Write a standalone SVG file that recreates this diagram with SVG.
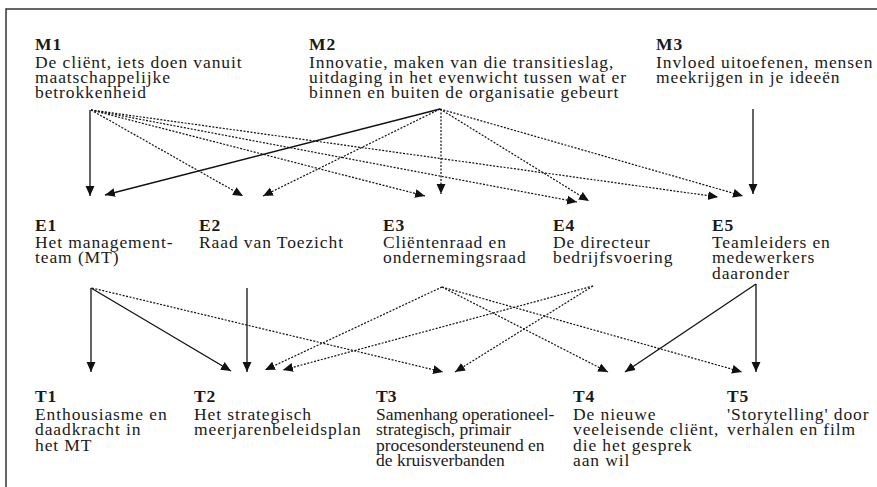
<svg xmlns="http://www.w3.org/2000/svg" width="877" height="487" viewBox="0 0 877 487">
<defs>
<style>
.t{font-family:"Liberation Serif","Times New Roman",serif;font-size:17.5px;letter-spacing:0.9px;fill:#1a1a1a}
.n{letter-spacing:0px}
.b{font-weight:bold}
.s{fill:none;stroke:#111;stroke-width:1.3}
.d{fill:none;stroke:#111;stroke-width:1.2;stroke-dasharray:2 1.5}
</style>
<marker id="ah" markerUnits="userSpaceOnUse" markerWidth="10" markerHeight="10" viewBox="0 0 9 8" refX="9" refY="4" orient="auto">
<path d="M0,0 L9,4 L0,8 z" fill="#111" stroke="none"/>
</marker>
</defs>
<rect x="6" y="9" width="890" height="500" fill="#fff" stroke="#333" stroke-width="1.5"/>

<g id="M1"><text class="t"><tspan class="b" x="35" y="50">M1</tspan><tspan x="35" y="67.5">De cliënt, iets doen vanuit</tspan><tspan x="35" y="82.8">maatschappelijke</tspan><tspan x="35" y="98">betrokkenheid</tspan></text></g>
<g id="M2"><text class="t"><tspan class="b" x="309" y="50">M2</tspan><tspan x="309" y="67.5">Innovatie, maken van die transitieslag,</tspan><tspan x="309" y="82.8">uitdaging in het evenwicht tussen wat er</tspan><tspan x="309" y="98">binnen en buiten de organisatie gebeurt</tspan></text></g>
<g id="M3"><text class="t"><tspan class="b" x="656" y="50">M3</tspan><tspan x="656" y="67.5">Invloed uitoefenen, mensen</tspan><tspan x="656" y="82.8">meekrijgen in je ideeën</tspan></text></g>

<g id="E1"><text class="t"><tspan class="b" x="35" y="231">E1</tspan><tspan x="35" y="248">Het management-</tspan><tspan x="35" y="263.3">team (MT)</tspan></text></g>
<g id="E2"><text class="t"><tspan class="b" x="199" y="231">E2</tspan><tspan x="199" y="248">Raad van Toezicht</tspan></text></g>
<g id="E3"><text class="t"><tspan class="b" x="383" y="231">E3</tspan><tspan x="383" y="248">Cliëntenraad en</tspan><tspan x="383" y="263.3">ondernemingsraad</tspan></text></g>
<g id="E4"><text class="t"><tspan class="b" x="553" y="231">E4</tspan><tspan x="553" y="248">De directeur</tspan><tspan x="553" y="263.3">bedrijfsvoering</tspan></text></g>
<g id="E5"><text class="t"><tspan class="b" x="712" y="231">E5</tspan><tspan x="712" y="248">Teamleiders en</tspan><tspan x="712" y="263.3">medewerkers</tspan><tspan x="712" y="278.5">daaronder</tspan></text></g>

<g id="T1"><text class="t"><tspan class="b" x="35" y="402">T1</tspan><tspan x="35" y="419.5">Enthousiasme en</tspan><tspan x="35" y="435">daadkracht in</tspan><tspan x="35" y="450.5">het MT</tspan></text></g>
<g id="T2"><text class="t"><tspan class="b" x="194" y="402">T2</tspan><tspan x="194" y="419.5">Het strategisch</tspan><tspan x="194" y="435">meerjarenbeleidsplan</tspan></text></g>
<g id="T3"><text class="t n"><tspan class="b" x="376" y="402">T3</tspan><tspan x="376" y="419.5">Samenhang operationeel-</tspan><tspan x="376" y="435">strategisch, primair</tspan><tspan x="376" y="450.5">procesondersteunend en</tspan><tspan x="376" y="466">de kruisverbanden</tspan></text></g>
<g id="T4"><text class="t"><tspan class="b" x="573" y="402">T4</tspan><tspan x="573" y="419.5">De nieuwe</tspan><tspan x="573" y="435">veeleisende cliënt,</tspan><tspan x="573" y="450.5">die het gesprek</tspan><tspan x="573" y="466">aan wil</tspan></text></g>
<g id="T5"><text class="t"><tspan class="b" x="727" y="402">T5</tspan><tspan x="727" y="419.5">'Storytelling' door</tspan><tspan x="727" y="435">verhalen en film</tspan></text></g>

<g id="connectors">
<line class="s" x1="90" y1="110" x2="90" y2="196" marker-end="url(#ah)"/>
<line class="d" x1="91" y1="110" x2="243" y2="196" marker-end="url(#ah)"/>
<line class="d" x1="91" y1="110" x2="425" y2="196" marker-end="url(#ah)"/>
<line class="d" x1="91" y1="110" x2="577" y2="202" marker-end="url(#ah)"/>
<line class="d" x1="91" y1="110" x2="718" y2="197" marker-end="url(#ah)"/>
<line class="s" x1="440" y1="109" x2="105" y2="195" marker-end="url(#ah)"/>
<line class="d" x1="440" y1="109" x2="263" y2="196" marker-end="url(#ah)"/>
<line class="d" x1="441" y1="109" x2="441" y2="194" marker-end="url(#ah)"/>
<line class="d" x1="440" y1="109" x2="589" y2="201" marker-end="url(#ah)"/>
<line class="d" x1="440" y1="109" x2="743" y2="196" marker-end="url(#ah)"/>
<line class="s" x1="753" y1="109" x2="753" y2="194" marker-end="url(#ah)"/>
<line class="s" x1="91" y1="288" x2="91" y2="372" marker-end="url(#ah)"/>
<line class="s" x1="91" y1="288" x2="231" y2="371" marker-end="url(#ah)"/>
<line class="d" x1="92" y1="288" x2="443" y2="372" marker-end="url(#ah)"/>
<line class="s" x1="247" y1="288" x2="247" y2="372" marker-end="url(#ah)"/>
<line class="d" x1="442" y1="287" x2="265" y2="370" marker-end="url(#ah)"/>
<line class="d" x1="442" y1="287" x2="608" y2="372" marker-end="url(#ah)"/>
<line class="d" x1="442" y1="287" x2="742" y2="372" marker-end="url(#ah)"/>
<line class="d" x1="593" y1="286" x2="283" y2="370" marker-end="url(#ah)"/>
<line class="d" x1="593" y1="286" x2="455" y2="372" marker-end="url(#ah)"/>
<line class="s" x1="756" y1="284" x2="625" y2="372" marker-end="url(#ah)"/>
<line class="s" x1="756" y1="284" x2="756" y2="372" marker-end="url(#ah)"/>
</g>
</svg>
